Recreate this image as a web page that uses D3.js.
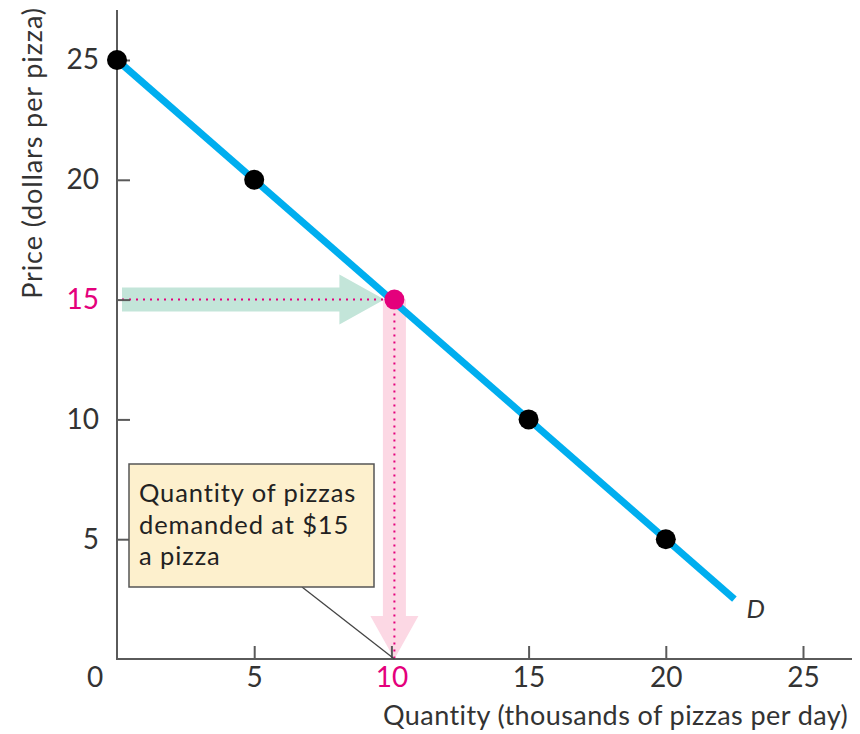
<!DOCTYPE html>
<html>
<head>
<meta charset="utf-8">
<script src="https://cdn.jsdelivr.net/npm/d3@7"></script>
<style>
  html, body { margin: 0; padding: 0; background: #fff; }
  svg { display: block; }
  text { font-family: Lato, "Open Sans", sans-serif; }
</style>
</head>
<body>
<svg id="chart" width="860" height="734"></svg>
<script>
// ---- data ----
const quantities = [0, 5, 10, 15, 20];          // thousands of pizzas per day
const prices     = [25, 20, 15, 10, 5];         // dollars per pizza
const highlightIndex = 2;                       // the $15 / 10 thousand point
const demandLineQ = [0, 22.5];
const demandLineP = [25, 2.5];
const xTicks = [5, 10, 15, 20, 25];
const yTicks = [5, 10, 15, 20, 25];
const xTitle = "Quantity (thousands of pizzas per day)";
const yTitle = "Price (dollars per pizza)";
const curveLabel = "D";
const noteLines = ["Quantity of pizzas", "demanded at $15", "a pizza"];

// ---- colours ----
const cBlue = "#00aeef", cPink = "#e4007c", cGreen = "#c3e5d9", cPinkLight = "#fcd8e4",
      cAxis = "#5a5a5a", cText = "#333333", cBox = "#fdf0cd";

const svg = d3.select("#chart");
const x = d3.scaleLinear().domain([0, 25]).range([117, 803]);
const y = d3.scaleLinear().domain([0, 25]).range([659, 60]);

const hq = quantities[highlightIndex], hp = prices[highlightIndex];

// green horizontal arrow (price -> curve)
{
  const x0 = x(0) + 5, x1 = x(hq) - 7, yc = y(hp);
  const sh = 12, hh = 25, hl = 45;
  svg.append("path")
    .attr("d", `M${x0},${yc - sh} L${x1 - hl},${yc - sh} L${x1 - hl},${yc - hh} L${x1},${yc} L${x1 - hl},${yc + hh} L${x1 - hl},${yc + sh} L${x0},${yc + sh} Z`)
    .attr("fill", cGreen);
}
// pink vertical arrow (curve -> quantity)
{
  const xc = x(hq) + 3, y0 = y(hp), y1 = y(0);
  const sw = 11.5, hw = 24, hl = 43;
  svg.append("path")
    .attr("d", `M${xc - sw},${y0} L${xc + sw},${y0} L${xc + sw},${y1 - hl} L${xc + hw},${y1 - hl} L${xc},${y1} L${xc - hw},${y1 - hl} L${xc - sw},${y1 - hl} Z`)
    .attr("fill", cPinkLight);
}
// dotted guide lines
svg.append("line")
  .attr("x1", x(0) + 5).attr("x2", x(hq)).attr("y1", y(hp)).attr("y2", y(hp))
  .attr("stroke", cPink).attr("stroke-width", 2).attr("stroke-dasharray", "2,5");
svg.append("line")
  .attr("x1", x(hq) + 3).attr("x2", x(hq) + 3).attr("y1", y(hp)).attr("y2", y(0))
  .attr("stroke", cPink).attr("stroke-width", 2).attr("stroke-dasharray", "2,5");

// ---- axes ----
const yAxis = d3.axisLeft(y).tickValues(yTicks).tickSize(-13).tickPadding(18).tickFormat(d3.format("d"));
const gy = svg.append("g").attr("transform", `translate(${x(0)},0)`).call(yAxis);
gy.select(".domain").remove();
gy.selectAll(".tick line").attr("stroke", cAxis).attr("stroke-width", 2);
gy.selectAll(".tick text").attr("font-size", 28).attr("fill", d => d === hp ? cPink : cText)
  .style("font-family", "Lato, sans-serif");

const xAxis = d3.axisBottom(x).tickValues(xTicks).tickSize(-13).tickPadding(8).tickFormat(d3.format("d"));
const gx = svg.append("g").attr("transform", `translate(0,${y(0)})`).call(xAxis);
gx.select(".domain").remove();
gx.selectAll(".tick line").attr("stroke", cAxis).attr("stroke-width", 2);
gx.selectAll(".tick text").attr("font-size", 28).attr("fill", d => d === hq ? cPink : cText)
  .style("font-family", "Lato, sans-serif");

// axis lines (extend beyond domain like the original)
svg.append("line").attr("x1", x(0)).attr("x2", x(0)).attr("y1", 10).attr("y2", y(0) + 1)
  .attr("stroke", cAxis).attr("stroke-width", 2);
svg.append("line").attr("x1", x(0) - 1).attr("x2", 852).attr("y1", y(0)).attr("y2", y(0))
  .attr("stroke", cAxis).attr("stroke-width", 2);

// origin label
svg.append("text").attr("x", x(0) - 22).attr("y", y(0) + 8).attr("dy", "0.71em")
  .attr("text-anchor", "middle").attr("font-size", 28).attr("fill", cText).text("0");

// axis titles
svg.append("text").attr("x", 848).attr("y", 725).attr("text-anchor", "end")
  .attr("font-size", 27).attr("letter-spacing", 0.4).attr("fill", cText).text(xTitle);
svg.append("text").attr("transform", "translate(42,153) rotate(-90)").attr("text-anchor", "middle")
  .attr("font-size", 27).attr("letter-spacing", 0.9).attr("fill", cText).text(yTitle);

// ---- demand curve ----
const lineData = demandLineQ.map((q, i) => [q, demandLineP[i]]);
svg.append("path").datum(lineData)
  .attr("d", d3.line().x(d => x(d[0])).y(d => y(d[1])))
  .attr("stroke", cBlue).attr("stroke-width", 7).attr("fill", "none");
svg.append("text")
  .attr("x", x(demandLineQ[1]) + 12).attr("y", y(demandLineP[1]) + 19)
  .attr("font-size", 26).attr("font-style", "italic").attr("fill", cText).text(curveLabel);

// ---- annotation box ----
svg.append("line").attr("x1", 302).attr("y1", 587).attr("x2", x(hq) + 3).attr("y2", y(0))
  .attr("stroke", "#444").attr("stroke-width", 1.3);
svg.append("rect").attr("x", 129).attr("y", 464).attr("width", 245).attr("height", 123)
  .attr("fill", cBox).attr("stroke", "#555").attr("stroke-width", 1.5);
svg.append("g").selectAll("text").data(noteLines).join("text")
  .attr("x", 139).attr("y", (d, i) => 502 + i * 31.5)
  .attr("font-size", 25.5).attr("letter-spacing", 0.9).attr("fill", "#222").text(d => d);

// ---- points ----
const pts = quantities.map((q, i) => ({ q, p: prices[i], hi: i === highlightIndex }));
svg.append("g").selectAll("circle").data(pts).join("circle")
  .attr("cx", d => x(d.q) + (d.hi ? 3 : 0)).attr("cy", d => y(d.p)).attr("r", 10)
  .attr("fill", d => d.hi ? cPink : "#000");
</script>
</body>
</html>
